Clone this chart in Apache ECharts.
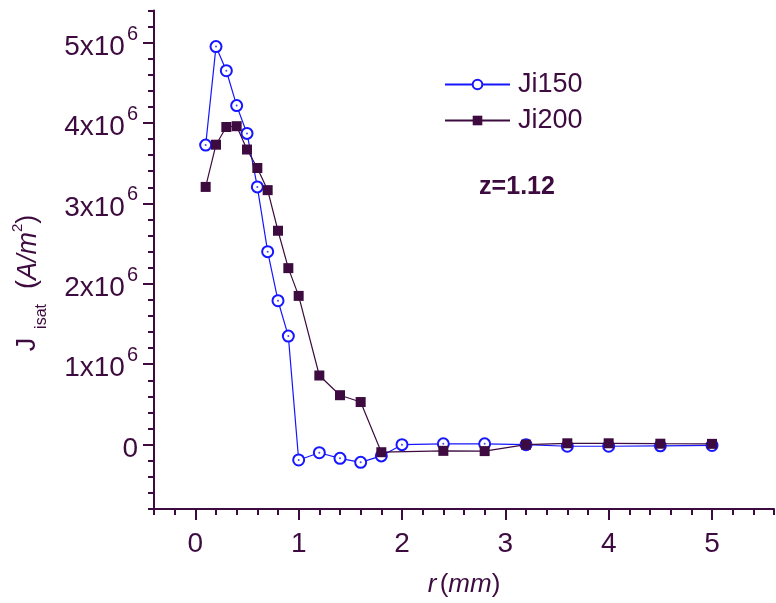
<!DOCTYPE html>
<html><head><meta charset="utf-8">
<script src="https://cdn.jsdelivr.net/npm/echarts@6/dist/echarts.min.js"></script>
<style>html,body{margin:0;padding:0;background:#fff}#c{width:776px;height:603px}</style>
</head><body><div id="c"></div>
<script>
// ---- data ----
const rJi150 = [0.1,0.2,0.3,0.4,0.5,0.6,0.7,0.8,0.9,1.0,1.2,1.4,1.6,1.8,2.0,2.4,2.8,3.2,3.6,4.0,4.5,5.0];
const ji150  = [3.725e6,4.95e6,4.65e6,4.216e6,3.87e6,3.205e6,2.40e6,1.79e6,1.35e6,-0.19e6,-0.10e6,-0.17e6,-0.22e6,-0.14e6,0.0,0.01e6,0.01e6,0.0,-0.02e6,-0.02e6,-0.015e6,-0.01e6];
const rJi200 = [0.1,0.2,0.3,0.4,0.5,0.6,0.7,0.8,0.9,1.0,1.2,1.4,1.6,1.8,2.4,2.8,3.2,3.6,4.0,4.5,5.0];
const ji200  = [3.205e6,3.73e6,3.95e6,3.96e6,3.67e6,3.44e6,3.165e6,2.66e6,2.195e6,1.85e6,0.86e6,0.615e6,0.53e6,-0.094e6,-0.077e6,-0.08e6,0.0,0.017e6,0.017e6,0.012e6,0.01e6];
const xMajorTicks = [0,1,2,3,4,5];
const yMajorTicks = [0,1e6,2e6,3e6,4e6,5e6];
const seriesNames = ['Ji150','Ji200'];
const annotation = 'z=1.12';

// ---- styles ----
const DARK = '#3d0b3f';
const BLUE = '#1616ff';
const xMin = -0.4, xMax = 5.6, yMin = -0.8e6, yMax = 5.4e6;

function minorTicks(min, max, step, majors) {
  const out = [];
  const n = Math.round((max - min) / step);
  for (let i = 0; i <= n; i++) {
    const v = Math.round((min + i * step) / step) * step;
    const vv = Math.round(v * 1e6) / 1e6;
    if (!majors.some(m => Math.abs(m - vv) < step / 10)) out.push(vv);
  }
  return out;
}
const xMinor = minorTicks(xMin, xMax, 0.2, xMajorTicks);
const yMinor = minorTicks(yMin, yMax, 0.2e6, yMajorTicks);

const zip = (a, b) => a.map((v, i) => [v, b[i]]);

const chart = echarts.init(document.getElementById('c'), null, {renderer: 'canvas'});
chart.setOption({
  animation: false,
  backgroundColor: '#fff',
  textStyle: {fontFamily: 'Liberation Sans, Arial, sans-serif', color: DARK},
  grid: {left: 154, right: 2, top: 10.4, bottom: 91.5, containLabel: false},
  legend: {
    data: seriesNames,
    orient: 'vertical',
    left: 444, top: 70, padding: 0,
    itemWidth: 65, itemHeight: 12, itemGap: 7,
    textStyle: {fontSize: 27, color: DARK, lineHeight: 29, padding: [0,0,0,3]}
  },
  xAxis: [{
    type: 'value', min: xMin, max: xMax, position: 'bottom',
    axisLine: {show: true, onZero: false, lineStyle: {color: DARK, width: 2}},
    axisTick: {show: true, customValues: xMajorTicks, length: 11, lineStyle: {color: DARK, width: 2}},
    axisLabel: {show: true, customValues: xMajorTicks, fontSize: 28, margin: 21, color: DARK},
    splitLine: {show: false},
    name: '{i|r} {n|(}{i|mm}{n|)}',
    nameLocation: 'middle', nameGap: 63,
    nameTextStyle: {color: DARK, rich: {
      i: {fontSize: 26, fontStyle: 'italic', color: DARK},
      n: {fontSize: 26, color: DARK}
    }}
  }, {
    type: 'value', min: xMin, max: xMax, position: 'bottom',
    axisLine: {show: false, onZero: false},
    axisTick: {show: true, customValues: xMinor, length: 6, lineStyle: {color: DARK, width: 2}},
    axisLabel: {show: false}, splitLine: {show: false}
  }],
  yAxis: [{
    type: 'value', min: yMin, max: yMax, position: 'left',
    axisLine: {show: true, onZero: false, lineStyle: {color: DARK, width: 2}},
    axisTick: {show: true, customValues: yMajorTicks, length: 11, lineStyle: {color: DARK, width: 2}},
    axisLabel: {
      show: true, customValues: yMajorTicks, margin: 16, color: DARK,
      formatter: v => v === 0 ? '{b|0}' : '{b|' + Math.round(v / 1e6) + 'x10}{s|6}',
      rich: {
        b: {fontSize: 28, color: DARK, verticalAlign: 'top', padding: [9,0,0,0]},
        s: {fontSize: 20, color: DARK, verticalAlign: 'top', padding: [0,0,0,2]}
      }
    },
    splitLine: {show: false}
  }, {
    type: 'value', min: yMin, max: yMax, position: 'left',
    axisLine: {show: false, onZero: false},
    axisTick: {show: true, customValues: yMinor, length: 6, lineStyle: {color: DARK, width: 2}},
    axisLabel: {show: false}, splitLine: {show: false}
  }],
  graphic: [{
    type: 'text', x: 29, y: 283, rotation: Math.PI / 2,
    style: {
      text: '{j|J}{sub|  isat}{n|  (}{i|A/m}{sup|2}{n|)}',
      align: 'center', verticalAlign: 'middle',
      fill: DARK,
      rich: {
        j: {fontSize: 27, fill: DARK, verticalAlign: 'top', padding: [6,0,0,0]},
        n: {fontSize: 27, fill: DARK, verticalAlign: 'top', padding: [6,0,0,0]},
        i: {fontSize: 27, fill: DARK, fontStyle: 'italic', verticalAlign: 'top', padding: [6,0,0,0]},
        sub: {fontSize: 16, fill: DARK, verticalAlign: 'top', padding: [25,0,0,0]},
        sup: {fontSize: 15, fill: DARK, verticalAlign: 'top', padding: [2,0,0,0]}
      }
    }
  }, {
    type: 'text', x: 517, y: 187,
    style: {text: annotation, align: 'center', verticalAlign: 'middle',
      fill: DARK, font: 'bold 25px "Liberation Sans", Arial, sans-serif'}
  }],
  series: [{
    name: seriesNames[0], type: 'line', xAxisIndex: 0, yAxisIndex: 0,
    data: zip(rJi150, ji150),
    symbol: 'emptyCircle', symbolSize: 11,
    lineStyle: {color: BLUE, width: 1.2},
    itemStyle: {color: BLUE, borderColor: BLUE, borderWidth: 1.3},
    z: 2
  }, {
    name: 'Ji150-center', type: 'scatter', xAxisIndex: 0, yAxisIndex: 0,
    data: zip(rJi150, ji150),
    symbol: 'circle', symbolSize: 2, silent: true,
    itemStyle: {color: BLUE}, z: 3
  }, {
    name: seriesNames[1], type: 'line', xAxisIndex: 0, yAxisIndex: 0,
    data: zip(rJi200, ji200),
    symbol: 'rect', symbolSize: 10,
    lineStyle: {color: DARK, width: 1.2},
    itemStyle: {color: DARK},
    z: 4
  }]
});
</script>
</body></html>
